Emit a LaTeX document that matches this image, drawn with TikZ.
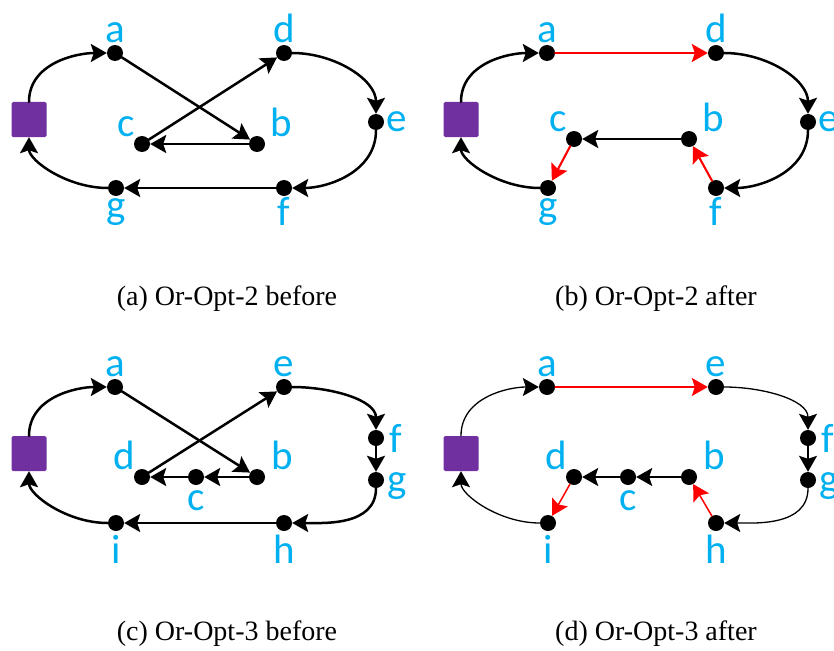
\documentclass[tikz,border=0pt]{standalone}
\usepackage{fontspec}
\setmainfont{Liberation Serif}
\newfontfamily\lblfont{Carlito}
\usetikzlibrary{arrows.meta, positioning}

\definecolor{lblue}{HTML}{00B0F0}
\definecolor{depotpurple}{HTML}{7030A0}

\begin{document}
\begin{tikzpicture}[x=1pt, y=1pt, >={Stealth[length=16pt, width=18pt, inset=3pt]}, line cap=round, line join=round]
	
	%======================
	% STYLES
	%======================
	\tikzset{
		stop/.style={circle, fill=black, inner sep=0pt, minimum size=16pt},
		depot/.style={rectangle, fill=depotpurple, rounded corners=1.5pt, minimum size=35pt, inner sep=0pt},
		tour/.style={line width=2.5pt, ->},
		moved/.style={line width=2.1pt, red, ->},
		every label/.style={text=lblue, font=\lblfont\fontsize{41}{41}\selectfont, inner sep=0pt},
		label distance=2pt,
		caption/.style={font=\fontsize{28}{28}\selectfont, anchor=base}
	}
	
	% page frame (834 x 650)
	\useasboundingbox (0,0) rectangle (834,-650);
	
	%======================
	% PANEL (a): Or-Opt-2 before
	%======================
	\begin{scope}[name prefix=A-]
		\node[depot] (depot) at (29,-119.5) {};
		\node[stop, label=above:a] (a) at (115,-53) {};
		\node[stop, label=above:d] (d) at (284,-53) {};
		\node[stop, label=right:e] (e) at (376,-122) {};
		\node[stop, label={[xshift=6pt]above right:b}] (b) at (257,-144) {};
		\node[stop, label=above left:c] (c) at (142,-144) {};
		\node[stop, label={[label distance=1pt]below:f}] (f) at (284,-188) {};
		\node[stop, label=below:g] (g) at (116,-188) {};
		
		\draw[tour] (depot) to[out=90, in=180] (a);
		\draw[tour] (a) -- (b);
		\draw[tour] (b) -- (c);
		\draw[tour] (c) -- (d);
		\draw[tour] (d) to[out=0, in=90] (e);
		\draw[tour] (e) to[out=-90, in=0] (f);
		\draw[tour] (f) -- (g);
		\draw[tour] (g) to[out=180, in=-90] (depot);
		
		\node[caption] (cap) at (227,-305) {(a) Or-Opt-2 before};
	\end{scope}
	
	%======================
	% PANEL (b): Or-Opt-2 after
	%======================
	\begin{scope}[shift={(432,0)}, name prefix=B-]
		\node[depot] (depot) at (29,-119.5) {};
		\node[stop, label=above:a] (a) at (115,-53) {};
		\node[stop, label=above:d] (d) at (284,-53) {};
		\node[stop, label=right:e] (e) at (376,-122) {};
		\node[stop, label={[xshift=6pt]above right:b}] (b) at (257,-139) {};
		\node[stop, label=above left:c] (c) at (142,-139) {};
		\node[stop, label={[label distance=1pt]below:f}] (f) at (284,-188) {};
		\node[stop, label=below:g] (g) at (116,-188) {};
		
		\draw[tour] (depot) to[out=90, in=180] (a);
		\draw[moved] (a) -- (d);
		\draw[tour] (d) to[out=0, in=90] (e);
		\draw[tour] (e) to[out=-90, in=0] (f);
		\draw[moved] (f) -- (b);
		\draw[tour] (b) -- (c);
		\draw[moved] (c) -- (g);
		\draw[tour] (g) to[out=180, in=-90] (depot);
		
		\node[caption] (cap) at (224,-305) {(b) Or-Opt-2 after};
	\end{scope}
	
	%======================
	% PANEL (c): Or-Opt-3 before
	%======================
	\begin{scope}[shift={(0,-334)}, name prefix=C-]
		\node[depot] (depot) at (29,-119.5) {};
		\node[stop, label=above:a] (a) at (115,-53) {};
		\node[stop, label=above:e] (e) at (284,-53) {};
		\node[stop, label={[label distance=5pt]right:f}] (f) at (376,-104) {};
		\node[stop, label={[label distance=3pt, yshift=-6pt]right:g}] (g) at (376,-146) {};
		\node[stop, label={[xshift=7pt]above right:b}] (b) at (257,-143) {};
		\node[stop, label={[label distance=5pt]below:c}] (c) at (196,-143) {};
		\node[stop, label=above left:d] (d) at (142,-143) {};
		\node[stop, label={[label distance=4pt]below:h}] (h) at (284,-189) {};
		\node[stop, label={[label distance=4pt]below:i}] (i) at (116,-189) {};
		
		\draw[tour] (depot) to[out=90, in=180] (a);
		\draw[tour] (a) -- (b);
		\draw[tour] (b) -- (c);
		\draw[tour] (c) -- (d);
		\draw[tour] (d) -- (e);
		\draw[tour] (e) to[out=0, in=90] (f);
		\draw[tour] (f) -- (g);
		\draw[tour] (g) to[out=-90, in=0] (h);
		\draw[tour] (h) -- (i);
		\draw[tour] (i) to[out=180, in=-90] (depot);
		
		\node[caption] (cap) at (227,-306) {(c) Or-Opt-3 before};
	\end{scope}
	
	%======================
	% PANEL (d): Or-Opt-3 after (thin lines)
	%======================
	\begin{scope}[shift={(432,-334)}, name prefix=D-, tour/.append style={line width=1.3pt}, moved/.append style={line width=1.5pt}]
		\node[depot] (depot) at (29,-119.5) {};
		\node[stop, label=above:a] (a) at (115,-53) {};
		\node[stop, label=above:e] (e) at (284,-53) {};
		\node[stop, label={[label distance=5pt]right:f}] (f) at (376,-104) {};
		\node[stop, label={[label distance=3pt, yshift=-6pt]right:g}] (g) at (376,-146) {};
		\node[stop, label={[xshift=7pt]above right:b}] (b) at (257,-143) {};
		\node[stop, label={[label distance=5pt]below:c}] (c) at (196,-143) {};
		\node[stop, label=above left:d] (d) at (142,-143) {};
		\node[stop, label={[label distance=4pt]below:h}] (h) at (284,-189) {};
		\node[stop, label={[label distance=4pt]below:i}] (i) at (116,-189) {};
		
		\draw[tour] (depot) to[out=90, in=180] (a);
		\draw[moved] (a) -- (e);
		\draw[tour] (e) to[out=0, in=90] (f);
		\draw[tour] (f) -- (g);
		\draw[tour] (g) to[out=-90, in=0] (h);
		\draw[moved] (h) -- (b);
		\draw[tour] (b) -- (c);
		\draw[tour] (c) -- (d);
		\draw[moved] (d) -- (i);
		\draw[tour] (i) to[out=180, in=-90] (depot);
		
		\node[caption] (cap) at (224,-306) {(d) Or-Opt-3 after};
	\end{scope}
	
\end{tikzpicture}
\end{document}
